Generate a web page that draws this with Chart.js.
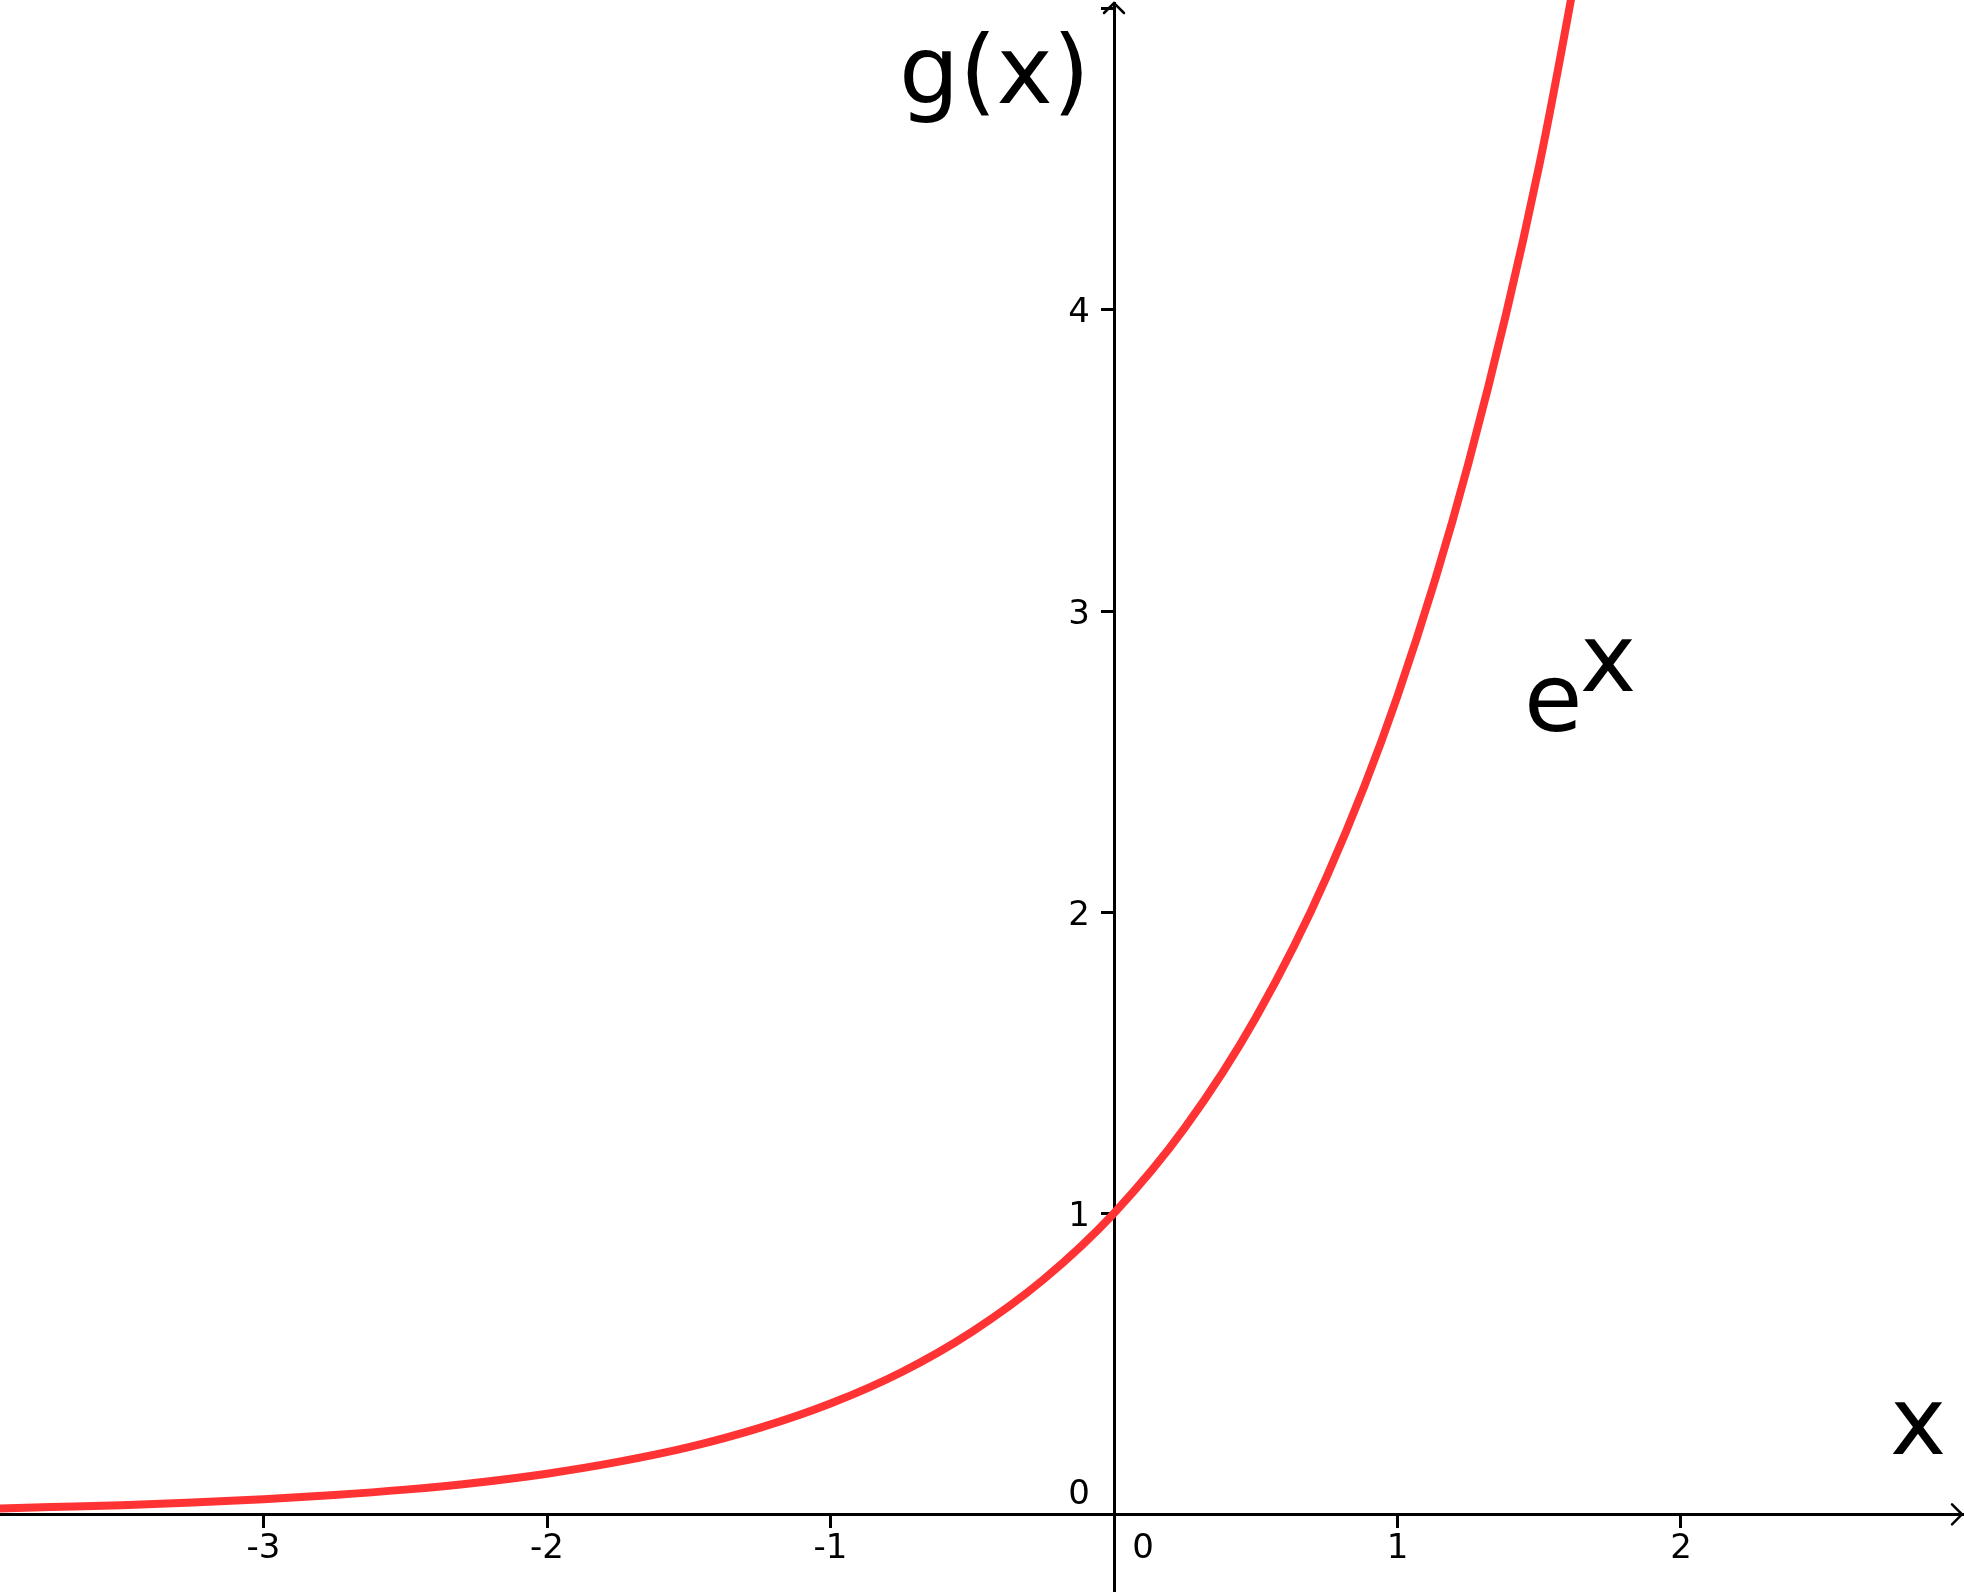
<!DOCTYPE html>
<html>
<head>
<meta charset="utf-8">
<script src="https://cdn.jsdelivr.net/npm/chart.js@4/dist/chart.umd.min.js"></script>
<style>
  html, body { margin: 0; padding: 0; background: #fff; }
  canvas { display: block; }
</style>
</head>
<body>
<canvas id="myChart" width="1964" height="1592"></canvas>
<script>
// points
const xValues = [-4, -3.75, -3.5, -3.25, -3, -2.75, -2.5, -2.25, -2, -1.75, -1.5, -1.25, -1,
  -0.75, -0.5, -0.25, 0, 0.25, 0.5, 0.75, 1, 1.25, 1.5, 1.75]
const yValues = [0.018, 0.024, 0.030, 0.039, 0.050, 0.064, 0.082, 0.105, 0.135, 0.174, 0.223, 0.287, 0.368,
  0.472, 0.607, 0.779, 1.0, 1.284, 1.649, 2.117, 2.718, 3.49, 4.48, 5.75]

const xTicks = [-3, -2, -1, 0, 1, 2]
const yTicks = [0, 1, 2, 3, 4]

const xRange = [-3.9295, 2.9912]
const yRange = [-0.258, 5.0193]

// text placed in data coordinates
const notes = [
  { text: 'g(x)', x: -0.758, y: 4.687 },
  { text: 'x', x: 2.737, y: 0.200 },
  { text: 'e', x: 1.446, y: 2.601 },
  { text: 'x', x: 1.644, y: 2.734 }
]

const points = xValues.map((x, i) => ({ x: x, y: yValues[i] }))

const font = '"DejaVu Sans", sans-serif'

const axisExtras = {
  id: 'axisExtras',
  afterDraw(chart) {
    const ctx = chart.ctx
    const xs = chart.scales.x
    const ys = chart.scales.y
    const area = chart.chartArea
    const x0 = xs.getPixelForValue(0)
    const y0 = ys.getPixelForValue(0)

    ctx.save()
    ctx.strokeStyle = '#000'
    ctx.lineWidth = 2.5
    ctx.lineCap = 'round'
    // arrow heads
    ctx.beginPath()
    ctx.moveTo(area.right - 10, y0 - 10)
    ctx.lineTo(area.right, y0)
    ctx.lineTo(area.right - 10, y0 + 10)
    ctx.moveTo(x0 - 10, area.top + 10)
    ctx.lineTo(x0, area.top)
    ctx.lineTo(x0 + 10, area.top + 10)
    ctx.stroke()

    // tick labels
    ctx.fillStyle = '#000'
    ctx.font = '34px ' + font
    ctx.textBaseline = 'alphabetic'
    ctx.textAlign = 'center'
    xTicks.forEach(v => {
      const px = xs.getPixelForValue(v)
      ctx.fillText(String(v), v === 0 ? px + 29 : px, y0 + 44)
    })
    ctx.textAlign = 'right'
    yTicks.forEach(v => {
      const py = ys.getPixelForValue(v)
      ctx.fillText(String(v), x0 - 24, v === 0 ? py - 10 : py + 12.5)
    })

    // labels
    ctx.font = '95px ' + font
    ctx.textAlign = 'left'
    notes.forEach(n => {
      ctx.fillText(n.text, xs.getPixelForValue(n.x), ys.getPixelForValue(n.y))
    })
    ctx.restore()
  }
}

const zeroSize = (scale) => {
  scale.width = scale.isHorizontal() ? scale.width : 0
  scale.height = scale.isHorizontal() ? 0 : scale.height
}

const axisStyle = {
  grid: { display: true, drawOnChartArea: false, drawTicks: true, tickLength: 12, color: '#000', lineWidth: 3 },
  border: { display: true, color: '#000', width: 3 }
}

new Chart(document.getElementById('myChart').getContext('2d'), {
  type: 'scatter',
  data: {
    datasets: [{
      data: points,
      showLine: true,
      borderColor: '#ff3333',
      backgroundColor: '#ff3333',
      borderWidth: 8,
      pointRadius: 0,
      cubicInterpolationMode: 'monotone',
      clip: false
    }]
  },
  options: {
    responsive: false,
    devicePixelRatio: 1,
    animation: false,
    layout: { padding: { top: 3, right: 2, left: 0, bottom: 0 } },
    plugins: { legend: { display: false }, tooltip: { enabled: false } },
    scales: {
      x: {
        type: 'linear',
        position: { y: 0 },
        min: xRange[0],
        max: xRange[1],
        ticks: { display: false, stepSize: 1, includeBounds: false },
        afterFit: zeroSize,
        ...axisStyle
      },
      y: {
        type: 'linear',
        position: { x: 0 },
        min: yRange[0],
        max: yRange[1],
        ticks: { display: false, stepSize: 1, includeBounds: false },
        afterFit: zeroSize,
        ...axisStyle
      }
    }
  },
  plugins: [axisExtras]
})
</script>
</body>
</html>
